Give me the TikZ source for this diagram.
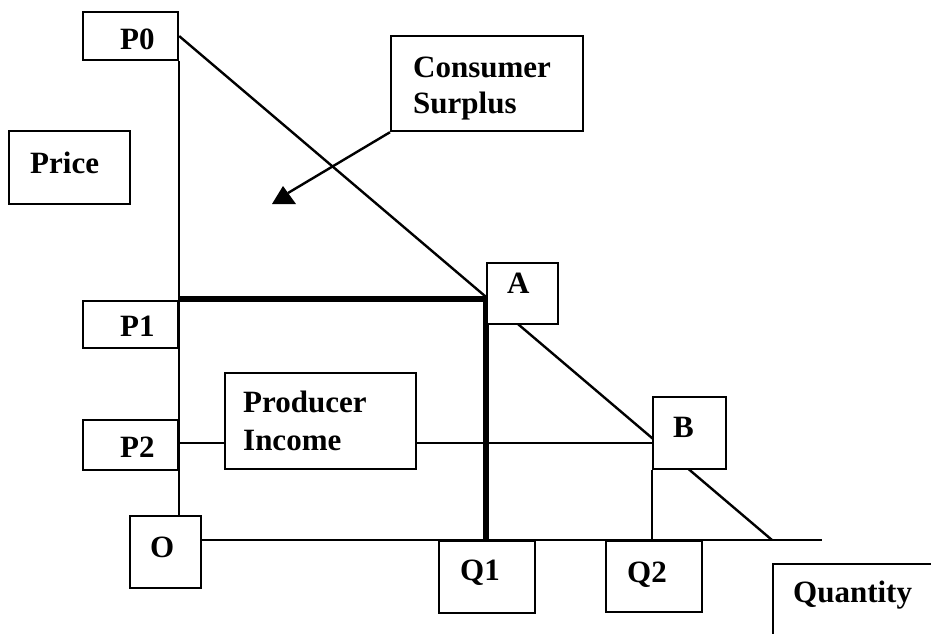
\documentclass[tikz,border=0pt]{standalone}
\usepackage{fontspec}
\setmainfont{Liberation Serif}
\usetikzlibrary{backgrounds}
\begin{document}
\begin{tikzpicture}[x=1pt,y=-1pt,
  box/.style={draw,line width=2.2pt,fill=white,inner sep=0pt,rectangle,anchor=north west},
  lbl/.style={anchor=base west,inner sep=0pt,font=\fontsize{31}{36}\selectfont\bfseries},
  thin/.style={line width=2.4pt},
  thick/.style={line width=6pt}]
\useasboundingbox (0,0) rectangle (931,633);
\clip (0,0) rectangle (931,633);
% boxes
\node[box,minimum width=95pt,minimum height=48pt] (p0) at (82,11) {};
\node[box,minimum width=121pt,minimum height=73pt] (price) at (8,130) {};
\node[box,minimum width=192pt,minimum height=95pt] (cs) at (390,35) {};
\node[box,minimum width=71pt,minimum height=61pt] (a) at (486,262) {};
\node[box,minimum width=95pt,minimum height=47pt] (p1) at (82,300) {};
\node[box,minimum width=191pt,minimum height=96pt] (pi) at (224,372) {};
\node[box,minimum width=95pt,minimum height=50pt] (p2) at (82,419) {};
\node[box,minimum width=73pt,minimum height=72pt] (b) at (652,396) {};
\node[box,minimum width=71pt,minimum height=72pt] (o) at (129,515) {};
\node[box,minimum width=96pt,minimum height=72pt] (q1) at (438,540) {};
\node[box,minimum width=96pt,minimum height=71pt] (q2) at (605,540) {};
\node[box,minimum width=190pt,minimum height=100pt] (qty) at (772,563) {};
% texts
\node[lbl] (tp0) at (120,49) {P0};
\node[lbl] (tprice) at (30,173) {Price};
\node[lbl] (tcs1) at (413,77) {Consumer};
\node[lbl] (tcs2) at (413,113) {Surplus};
\node[lbl] (ta) at (507,293) {A};
\node[lbl] (tp1) at (120,336) {P1};
\node[lbl] (tpi1) at (243,412) {Producer};
\node[lbl] (tpi2) at (243,450) {Income};
\node[lbl] (tp2) at (120,457) {P2};
\node[lbl] (tb) at (673,437) {B};
\node[lbl] (to) at (150,557) {O};
\node[lbl] (tq1) at (460,580) {Q1};
\node[lbl] (tq2) at (627,582) {Q2};
\node[lbl] (tqty) at (793,602) {Quantity};
% coordinates
\coordinate (dend) at (772,540);
\coordinate (qend) at (822,540);
\coordinate (ptA) at (486,299);
\coordinate (ptB) at (652,443);
\coordinate (tip) at (288,193);
\begin{scope}[on background layer]
  \draw[thin] (p0.east) -- (dend);
  \draw[thin] (p0.south east) -- (p0.south east |- o.north);
  \draw[thin] (qend -| o.east) -- (qend);
  \draw[thin] (ptB -| p0.east) -- (ptB);
  \draw[thin] (b.south west) -- (b.south west |- qend);
  \draw[thick] (ptA -| p0.east) -- (ptA) -- (ptA |- qend);
\end{scope}
\draw[thin] (cs.south west) -- (tip);
\fill (272,204) -- (296,204) -- (283,186) -- cycle;
\end{tikzpicture}
\end{document}
